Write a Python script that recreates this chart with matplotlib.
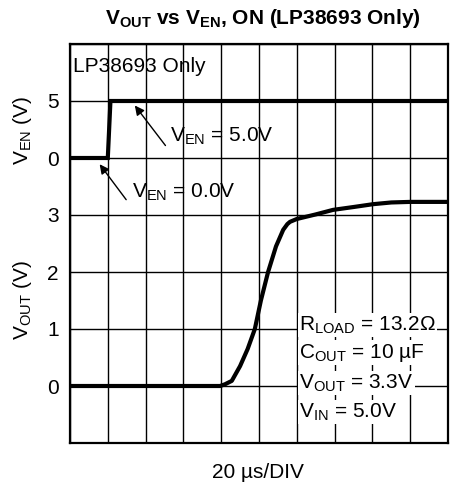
import numpy as np
import matplotlib.pyplot as plt

plt.rcParams['font.family'] = ['Liberation Sans', 'DejaVu Sans']
plt.rcParams['mathtext.fontset'] = 'custom'
plt.rcParams['mathtext.rm'] = 'Liberation Sans'
plt.rcParams['mathtext.bf'] = 'Liberation Sans:bold'
plt.rcParams['mathtext.default'] = 'regular'

# time in divisions (20 us/DIV)
ven_t = [0, 1.0, 1.07, 10]
ven_v = [0, 0, 5.0, 5.0]

vout_t = [0, 3.97, 4.1, 4.28, 4.5, 4.7, 4.89, 5.05, 5.24, 5.45, 5.64, 5.75, 5.82, 6.0, 6.5, 6.96, 7.5, 8.02, 8.5, 9.0, 10]
vout_v = [0, 0, 0.03, 0.09, 0.35, 0.65, 1.0, 1.5, 2.0, 2.45, 2.74, 2.84, 2.88, 2.93, 3.01, 3.09, 3.14, 3.19, 3.22, 3.23, 3.23]

tick_labels = ['', '0', '1', '2', '3', '0', '5', '']

# map volts to grid divisions
ven_y = [5 + v / 5.0 for v in ven_v]
vout_y = [1 + v for v in vout_v]

fs = 15

fig = plt.figure(figsize=(4.71, 4.87), dpi=100)
ax = fig.add_axes([70 / 471, 44 / 487, 378 / 471, 399 / 487])

ax.plot(ven_t, ven_y, color='black', lw=3, solid_joinstyle='miter', zorder=3)
ax.plot(vout_t, vout_y, color='black', lw=3, zorder=3)

ax.set_xlim(0, 10)
ax.set_ylim(0, 7)
ax.set_xticks(np.arange(0, 11, 1))
ax.set_xticklabels([])
ax.set_yticks(np.arange(0, 8, 1))
ax.set_yticklabels(tick_labels, fontsize=fs)
ax.tick_params(axis='both', length=0, pad=8)
ax.grid(True, color='black', lw=1)
for s in ax.spines.values():
    s.set_linewidth(1.6)

txt = dict(fontsize=fs, color='black')
ax.text(0.08, 6.6, 'LP38693 Only', va='center', ha='left', **txt)

ax.annotate('', xy=(1.67, 5.96), xytext=(2.57, 5.18),
            arrowprops=dict(arrowstyle='-|>', color='black', lw=1, mutation_scale=14))
ax.text(2.65, 5.38, r'$V_{EN}$ = 5.0V', va='center', ha='left', **txt)

ax.annotate('', xy=(0.74, 4.93), xytext=(1.53, 4.23),
            arrowprops=dict(arrowstyle='-|>', color='black', lw=1, mutation_scale=14))
ax.text(1.64, 4.39, r'$V_{EN}$ = 0.0V', va='center', ha='left', **txt)

box = dict(facecolor='white', edgecolor='none', pad=1)
ax.text(6.06, 2.07, r'$R_{LOAD}$ = 13.2Ω', va='center', ha='left', bbox=box, **txt)
ax.text(6.06, 1.58, r'$C_{OUT}$ = 10 µF', va='center', ha='left', bbox=box, **txt)
ax.text(6.06, 1.05, r'$V_{OUT}$ = 3.3V', va='center', ha='left', bbox=box, **txt)
ax.text(6.06, 0.54, r'$V_{IN}$ = 5.0V', va='center', ha='left', bbox=box, **txt)

fig.text(263 / 471, 1 - 19 / 487, r'$\mathbf{V_{OUT}}$ vs $\mathbf{V_{EN}}$, ON (LP38693 Only)',
         ha='center', va='center', fontsize=fs, fontweight='bold')
fig.text(23 / 471, 1 - 130 / 487, r'$V_{EN}$ (V)', rotation=90, ha='center', va='center', fontsize=fs)
fig.text(23 / 471, 1 - 300 / 487, r'$V_{OUT}$ (V)', rotation=90, ha='center', va='center', fontsize=fs)
fig.text(258 / 471, 1 - 473 / 487, '20 µs/DIV', ha='center', va='center', fontsize=fs)

fig.savefig('out.png', dpi=100)
